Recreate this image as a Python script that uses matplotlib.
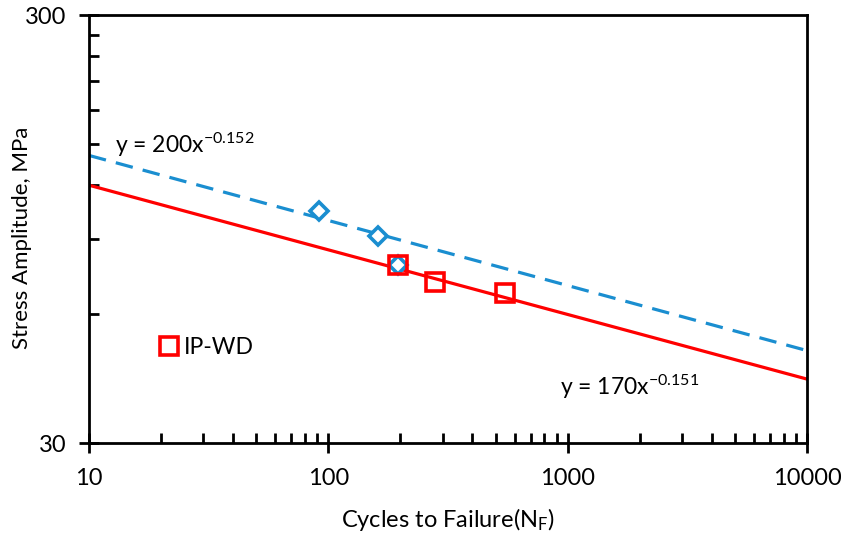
import numpy as np
import matplotlib
matplotlib.use("Agg")
from matplotlib import pyplot as plt
from matplotlib.ticker import FixedLocator, NullFormatter

plt.rcParams['font.family'] = ['Lato', 'DejaVu Sans']
plt.rcParams['mathtext.fontset'] = 'custom'
plt.rcParams['mathtext.rm'] = 'Lato'
plt.rcParams['mathtext.it'] = 'Lato'

# measured points
blue_cycles = [91, 161, 195]
blue_stress = [104.5, 91.4, 78.2]
red_cycles = [195, 279, 547]
red_stress = [78.0, 71.3, 67.2]

# power-law trendlines  y = a * x^b
trend_x = np.array([10, 10000])
blue_a, blue_b = 200, -0.152
red_a, red_b = 170, -0.151

blue = '#1a8ed0'
red = '#ff0000'

fig = plt.figure(figsize=(8.41, 5.34), dpi=100)
ax = fig.add_axes([0.1058, 0.1704, 0.8538, 0.8015])

ax.plot(trend_x, blue_a * trend_x ** blue_b, color=blue, lw=2.3, dashes=(5.5, 3.2))
ax.plot(trend_x, red_a * trend_x ** red_b, color=red, lw=2.3)

ax.plot(blue_cycles, blue_stress, ls='none', marker='D', ms=9, mfc='white',
        mec=blue, mew=2.6, zorder=3)
ax.plot(red_cycles, red_stress, ls='none', marker='s', ms=13, mfc='none',
        mec=red, mew=2.6, zorder=4, label='IP-WD')

ax.set_xscale('log')
ax.set_yscale('log')
ax.set_xlim(10, 10000)
ax.set_ylim(30, 300)

ax.xaxis.set_major_locator(FixedLocator([10, 100, 1000, 10000]))
ax.xaxis.set_minor_locator(FixedLocator([m * d for d in [10, 100, 1000] for m in range(2, 10)]))
ax.yaxis.set_major_locator(FixedLocator([30, 300]))
ax.yaxis.set_minor_locator(FixedLocator([30 * m for m in range(2, 10)]))
ax.set_xticklabels(['10', '100', '1000', '10000'])
ax.set_yticklabels(['30', '300'])
ax.xaxis.set_minor_formatter(NullFormatter())
ax.yaxis.set_minor_formatter(NullFormatter())

ax.tick_params(which='major', direction='inout', length=14, width=2, labelsize=17)
ax.tick_params(axis='x', which='major', pad=11)
ax.tick_params(axis='y', which='major', pad=9)
ax.tick_params(which='minor', direction='in', length=7, width=2)
for s in ax.spines.values():
    s.set_linewidth(2)

ax.set_xlabel('Cycles to Failure(N$_\\mathregular{F}$)', fontsize=17)
ax.xaxis.set_label_coords(0.5, -0.148)
ax.xaxis.label.set_va('top')
ax.set_ylabel('Stress Amplitude, MPa', fontsize=16)
ax.yaxis.set_label_coords(-0.08, 0.48)

ax.text(12.8, 149, 'y = 200x$^{-0.152}$', fontsize=16.5, va='center')
ax.text(930, 40.5, 'y = 170x$^{-0.151}$', fontsize=16.5, va='center')

ax.legend(loc='center left', bbox_to_anchor=(0.072, 0.222), frameon=False,
          fontsize=16.5, handlelength=0.7, handletextpad=0.3)

fig.savefig('out.png', dpi=100)
